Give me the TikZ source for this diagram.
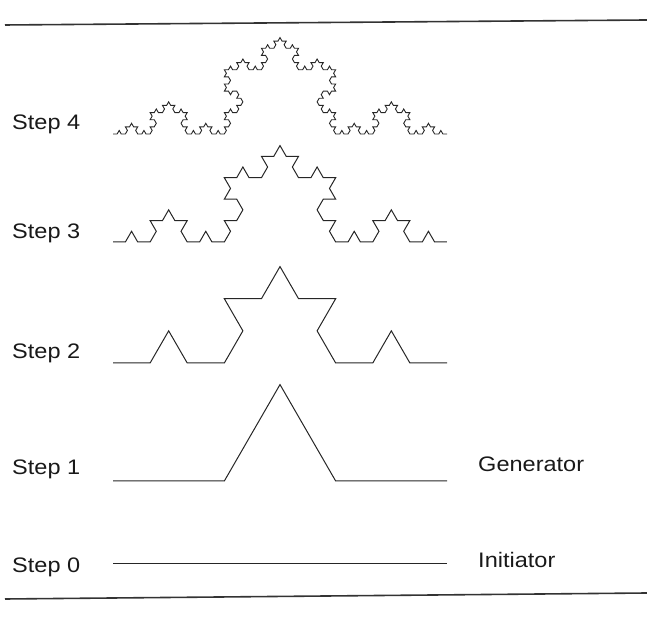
\documentclass[tikz,border=0pt]{standalone}
\usepackage{fontspec}
\setmainfont{Liberation Sans}
\makeatletter
\def\kochgen#1#2{%
  \ifnum#1=0
    \xdef\kpath{\kpath -- ++(#2:\klen pt)}%
  \else
    \expandafter\kochfour\expandafter{\the\numexpr#1-1\relax}{#2}%
  \fi}
\def\kochfour#1#2{%
  \kochgen{#1}{#2}%
  \kochgen{#1}{\the\numexpr#2+60\relax}%
  \kochgen{#1}{\the\numexpr#2-60\relax}%
  \kochgen{#1}{#2}}
\newcommand\kochdraw[4]{% #1 style, #2 start coordinate name, #3 order, #4 segment length
  \gdef\kpath{}\def\klen{#4}%
  \kochgen{#3}{0}%
  \edef\kochtmp{\noexpand\draw[#1] (#2) \kpath;}\kochtmp}
\makeatother
\begin{document}
\begin{tikzpicture}[x=1pt,y=1pt,
  koch/.style={line width=1pt, draw=black!85, line join=miter},
  lbl/.style={anchor=base west, inner sep=0pt, xscale=1.12, font=\fontsize{21}{24}\selectfont, text=black!90},
  rulebar/.style={line width=1.6pt, draw=black!80}]
\useasboundingbox (0,0) rectangle (647,620);
% rules
\coordinate (tl) at (5,595);
\coordinate (tr) at (647,600);
\coordinate (bl) at (5,21);
\coordinate (br) at (647,27);
\draw[rulebar] (tl) -- (tr);
\draw[rulebar] (bl) -- (br);
% labels
\node[lbl] (s4) at (12,490) {Step 4};
\node[lbl] (s3) at (12,381) {Step 3};
\node[lbl] (s2) at (12,261) {Step 2};
\node[lbl] (s1) at (12,145) {Step 1};
\node[lbl] (s0) at (12,47) {Step 0};
\node[lbl] (gen) at (478,148) {Generator};
\node[lbl] (ini) at (478,52) {Initiator};
% curves
\coordinate (c0a) at (113,56);
\coordinate (c0b) at (447,56);
\coordinate (c1) at (113,139);
\coordinate (c2) at (113,257);
\coordinate (c3) at (113,378);
\coordinate (c4) at (113,486);
\draw[koch] (c0a) -- (c0b);
\kochdraw{koch}{c1}{1}{111.333}
\kochdraw{koch}{c2}{2}{37.111}
\kochdraw{koch}{c3}{3}{12.370}
\kochdraw{koch,line width=0.9pt}{c4}{4}{4.1235}
\end{tikzpicture}
\end{document}
